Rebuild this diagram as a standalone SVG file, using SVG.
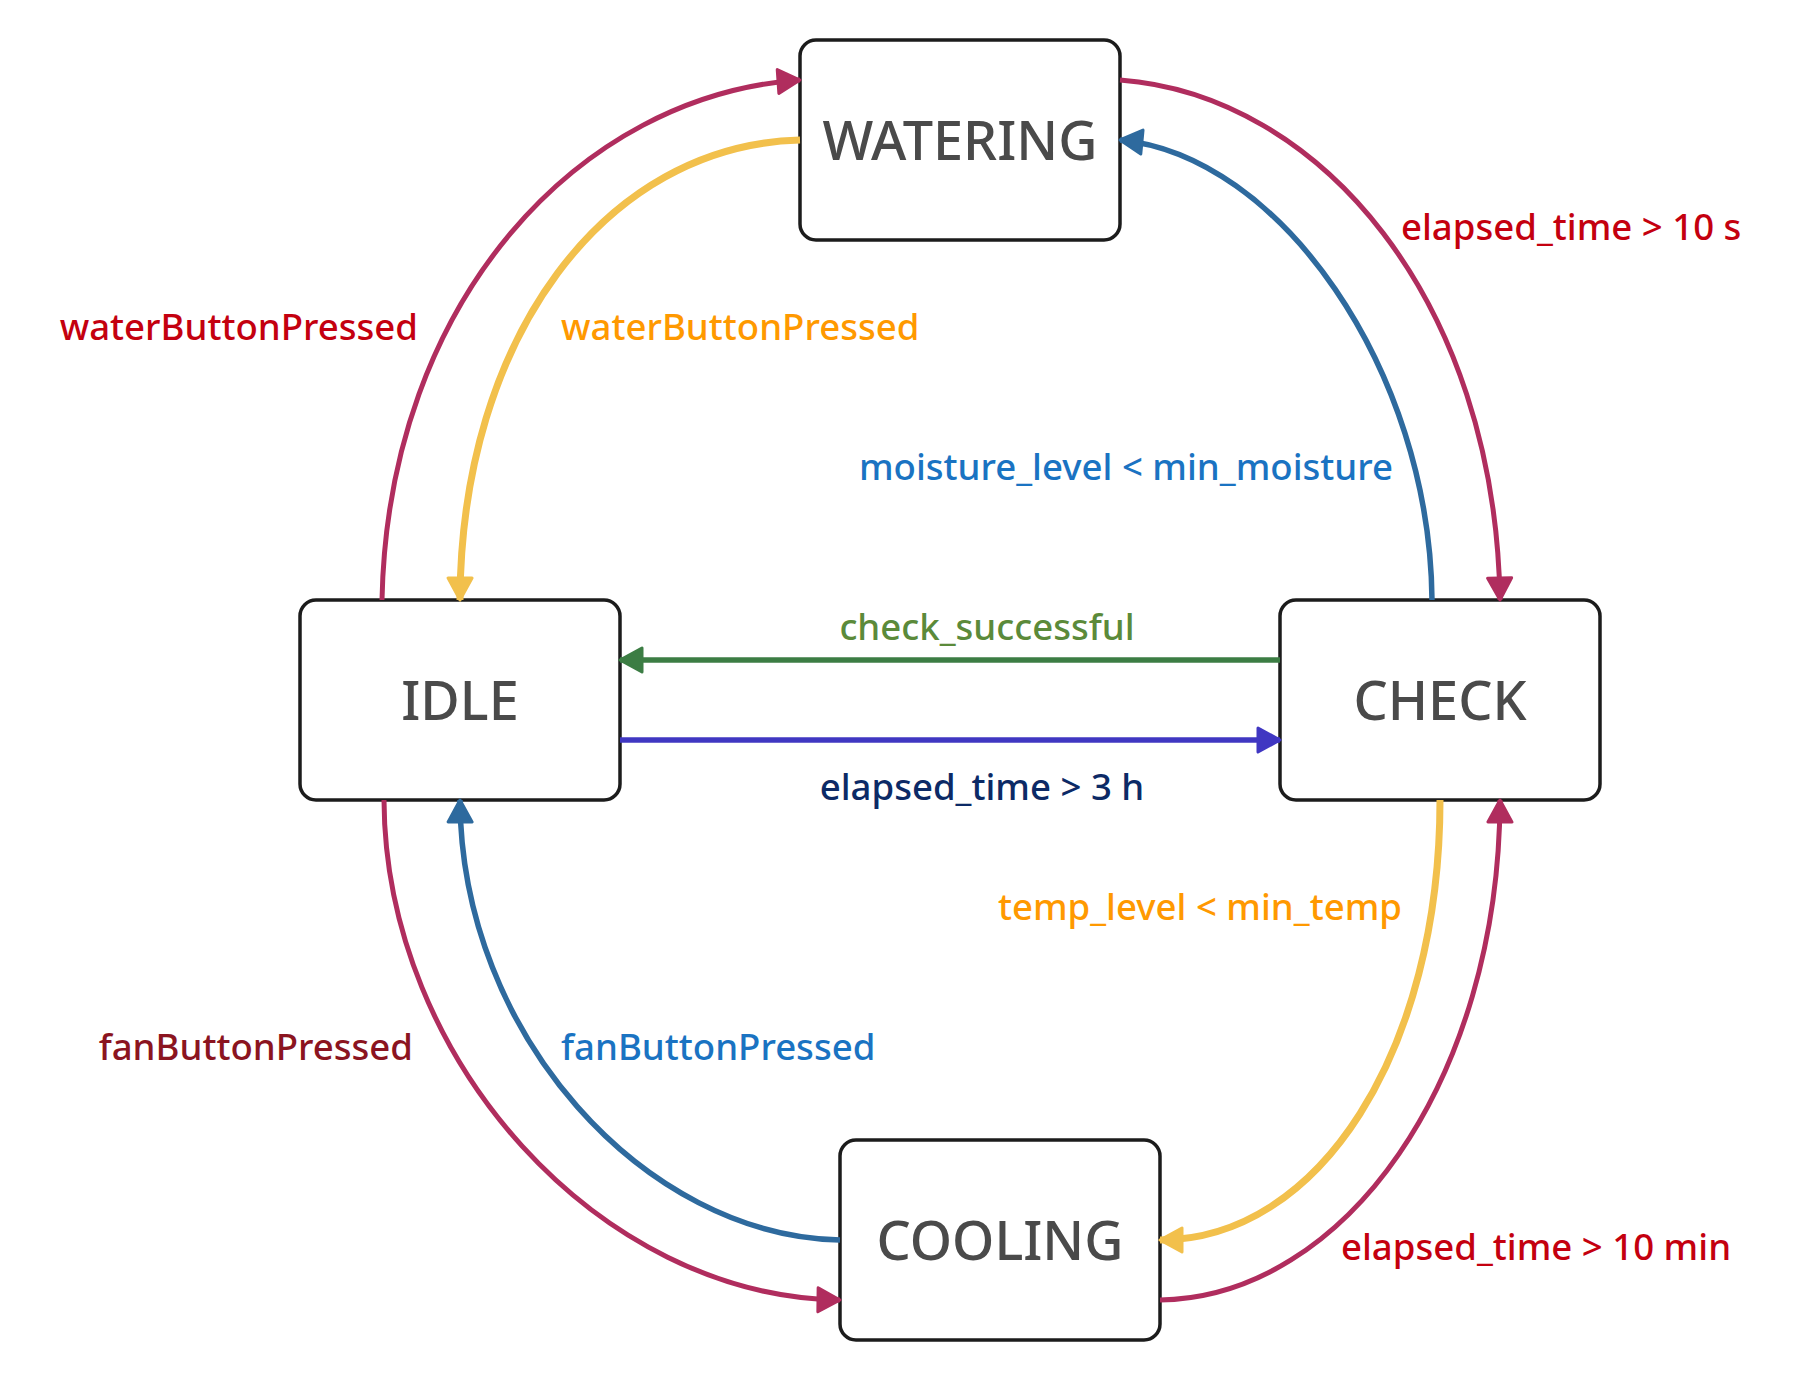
<svg xmlns="http://www.w3.org/2000/svg" width="1820" height="1380" viewBox="0 0 1820 1380">
<style>
.node rect{fill:#fff;stroke:#1c1c1c;stroke-width:3.5}
.node text{font-family:"Noto Sans","Open Sans",sans-serif;font-size:54px;font-weight:500;fill:#4a4a4a;text-anchor:middle}
.edge{fill:none}
.lbl{font-family:"Noto Sans","Open Sans",sans-serif;font-size:36.6px;font-weight:500}
</style>
<defs>
<marker id="a-pink" viewBox="0 0 26 28" markerWidth="26" markerHeight="28" refX="24" refY="14" orient="auto" markerUnits="userSpaceOnUse"><path d="M2,2 L24,14 L2,26 Z" fill="#b02d5e" stroke="#b02d5e" stroke-width="3" stroke-linejoin="round"/></marker>
<marker id="a-yellow" viewBox="0 0 26 28" markerWidth="26" markerHeight="28" refX="24" refY="14" orient="auto" markerUnits="userSpaceOnUse"><path d="M2,2 L24,14 L2,26 Z" fill="#f2c04c" stroke="#f2c04c" stroke-width="3" stroke-linejoin="round"/></marker>
<marker id="a-blue" viewBox="0 0 26 28" markerWidth="26" markerHeight="28" refX="24" refY="14" orient="auto" markerUnits="userSpaceOnUse"><path d="M2,2 L24,14 L2,26 Z" fill="#2e6a9e" stroke="#2e6a9e" stroke-width="3" stroke-linejoin="round"/></marker>
<marker id="a-green" viewBox="0 0 26 28" markerWidth="26" markerHeight="28" refX="24" refY="14" orient="auto" markerUnits="userSpaceOnUse"><path d="M2,2 L24,14 L2,26 Z" fill="#3c7d44" stroke="#3c7d44" stroke-width="3" stroke-linejoin="round"/></marker>
<marker id="a-indigo" viewBox="0 0 26 28" markerWidth="26" markerHeight="28" refX="24" refY="14" orient="auto" markerUnits="userSpaceOnUse"><path d="M2,2 L24,14 L2,26 Z" fill="#4037c2" stroke="#4037c2" stroke-width="3" stroke-linejoin="round"/></marker>
</defs>
<rect width="1820" height="1380" fill="#fff"/>
<g id="node-watering" class="node"><rect x="800" y="40" width="320" height="200" rx="16"/><text x="960" y="160">WATERING</text></g>
<g id="node-idle" class="node"><rect x="300" y="600" width="320" height="200" rx="16"/><text x="460" y="720">IDLE</text></g>
<g id="node-check" class="node"><rect x="1280" y="600" width="320" height="200" rx="16"/><text x="1440" y="720">CHECK</text></g>
<g id="node-cooling" class="node"><rect x="840" y="1140" width="320" height="200" rx="16"/><text x="1000" y="1260">COOLING</text></g>
<g id="connectors">
<path class="edge" d="M382,600 C388,300 580,95 800,80" stroke="#b02d5e" stroke-width="5" marker-end="url(#a-pink)"/>
<path class="edge" d="M800,140 C605,145 461,338 460,600" stroke="#f2c04c" stroke-width="7" marker-end="url(#a-yellow)"/>
<path class="edge" d="M1120,80 C1320,95 1495,300 1500,600" stroke="#b02d5e" stroke-width="5" marker-end="url(#a-pink)"/>
<path class="edge" d="M1432,600 C1430,370 1280,155 1120,140" stroke="#2e6a9e" stroke-width="5.5" marker-end="url(#a-blue)"/>
<path class="edge" d="M1280,660 L620,660" stroke="#3c7d44" stroke-width="5.5" marker-end="url(#a-green)"/>
<path class="edge" d="M620,740 L1280,740" stroke="#4037c2" stroke-width="5.5" marker-end="url(#a-indigo)"/>
<path class="edge" d="M384,800 C385,1060 600,1297 840,1300" stroke="#b02d5e" stroke-width="5" marker-end="url(#a-pink)"/>
<path class="edge" d="M840,1240 C645,1236 461,1035 460,800" stroke="#2e6a9e" stroke-width="5.5" marker-end="url(#a-blue)"/>
<path class="edge" d="M1440,800 C1440,1050 1320,1240 1160,1240" stroke="#f2c04c" stroke-width="7" marker-end="url(#a-yellow)"/>
<path class="edge" d="M1160,1300 C1345,1297 1499,1080 1500,800" stroke="#b02d5e" stroke-width="5" marker-end="url(#a-pink)"/>
<text class="lbl" x="418" y="340" text-anchor="end" fill="#c4000f">waterButtonPressed</text>
<text class="lbl" x="561" y="340" fill="#ff9900">waterButtonPressed</text>
<text class="lbl" x="1401" y="240" fill="#c4000f">elapsed_time &gt; 10 s</text>
<text class="lbl" x="1393" y="480" text-anchor="end" fill="#1a73c2">moisture_level &lt; min_moisture</text>
<text class="lbl" x="987" y="640" text-anchor="middle" fill="#5b8a3a">check_successful</text>
<text class="lbl" x="982" y="800" text-anchor="middle" fill="#0c2a66">elapsed_time &gt; 3 h</text>
<text class="lbl" x="1402" y="920" text-anchor="end" fill="#ff9900">temp_level &lt; min_temp</text>
<text class="lbl" x="413" y="1060" text-anchor="end" fill="#8b1420">fanButtonPressed</text>
<text class="lbl" x="561" y="1060" fill="#1a73c2">fanButtonPressed</text>
<text class="lbl" x="1341" y="1260" fill="#c4000f">elapsed_time &gt; 10 min</text>
</g>
</svg>
